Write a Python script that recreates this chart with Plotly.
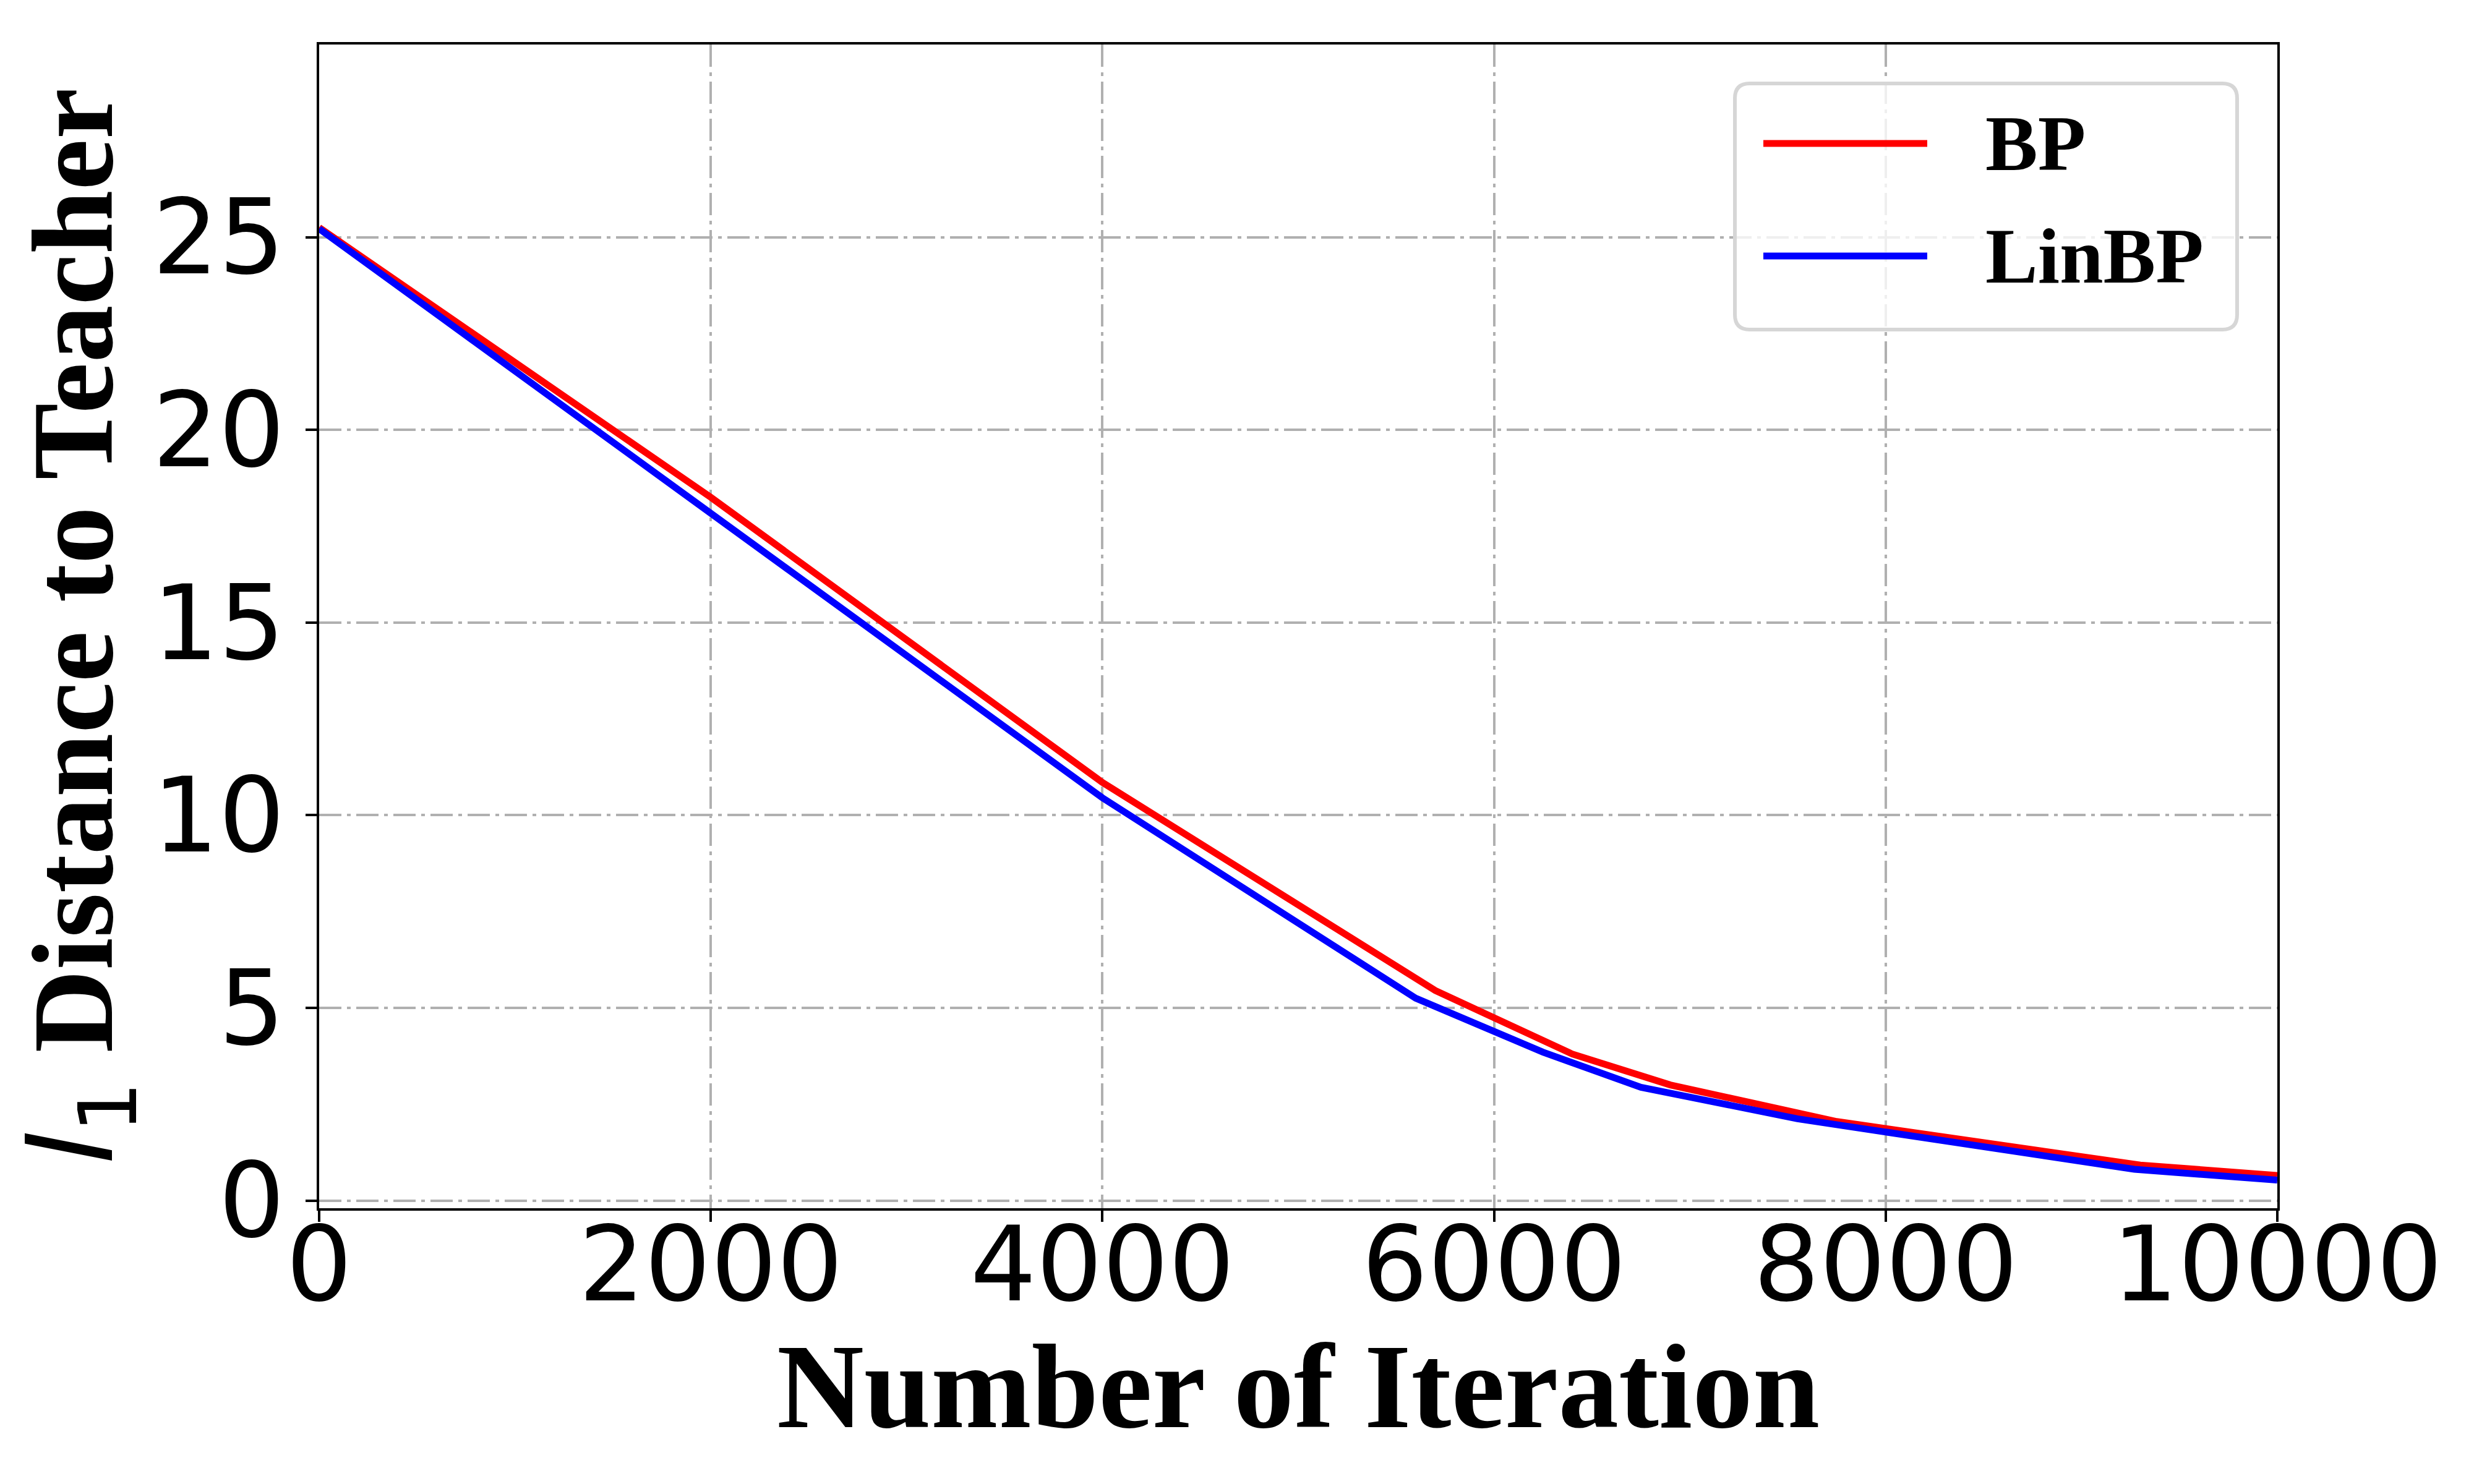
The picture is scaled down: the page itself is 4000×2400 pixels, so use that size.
import plotly.graph_objects as go

# ---- data ----
series_names = ["BP", "LinBP"]
series_colors = ["#ff0000", "#0000ff"]

bp_iter = [0, 2000, 4000, 5700, 6400, 6900, 7750, 9300, 10000]
bp_dist = [25.25, 18.25, 10.85, 5.45, 3.80, 3.00, 2.05, 0.92, 0.65]

linbp_iter = [0, 2000, 4000, 5600, 6250, 6750, 7550, 9270, 10000]
linbp_dist = [25.22, 17.85, 10.45, 5.25, 3.85, 2.94, 2.12, 0.81, 0.53]

x_ticks = [0, 2000, 4000, 6000, 8000, 10000]
y_ticks = [0, 5, 10, 15, 20, 25]

x_title = "Number of Iteration"
y_title_rest = " Distance to Teacher"

W, H = 4000, 2400
ML, MR, MT, MB = 508, 326, 64, 454
PW, PH = W - ML - MR, H - MT - MB

SERIF = "Liberation Serif"
SANS = "DejaVu Sans"

fig = go.Figure()
for name, color, xs, ys in [
    (series_names[0], series_colors[0], bp_iter, bp_dist),
    (series_names[1], series_colors[1], linbp_iter, linbp_dist),
]:
    fig.add_trace(go.Scatter(x=xs, y=ys, mode="lines", name=name,
                             line=dict(color=color, width=11),
                             showlegend=False))

grid_dash = "36px,9px,6px,9px"
axis_common = dict(
    showline=True, linecolor="black", linewidth=4, mirror=True,
    ticks="outside", ticklen=18, tickwidth=4, tickcolor="black",
    showgrid=True, gridcolor="#b0b0b0", gridwidth=3.5, griddash=grid_dash,
    zeroline=False,
    tickfont=dict(family=SANS, size=168, color="black"),
)

fig.update_layout(
    width=W, height=H,
    margin=dict(l=ML, r=MR, t=MT, b=MB),
    paper_bgcolor="white", plot_bgcolor="white",
    xaxis=dict(range=[0, 10000], tickvals=x_ticks,
               ticktext=[str(v) for v in x_ticks],
               ticklabelstandoff=-75,
               **axis_common),
    yaxis=dict(range=[-0.2, 30.0], tickvals=y_ticks,
               ticktext=[str(v) for v in y_ticks],
               title=dict(
                   text=("<span style='font-family:DejaVu Sans;font-style:italic;font-weight:normal'>l</span>"
                         "<sub><span style='font-family:DejaVu Sans;font-weight:normal'>1</span></sub>"
                         + y_title_rest),
                   standoff=19,
                   font=dict(family=SERIF, size=186, color="black", weight="bold")),
               **axis_common),
)

def px_to_paper_x(px):
    return (px - ML) / PW

def px_to_paper_y(py):
    return (H - MB - py) / PH

# x-axis title as an annotation (placed closer to the tick labels than standoff allows)
fig.add_annotation(xref="paper", yref="paper", x=0.5, y=px_to_paper_y(2124),
                   xanchor="center", yanchor="top", showarrow=False,
                   text=f"<b>{x_title}</b>",
                   font=dict(family=SERIF, size=195, color="black"))

# ---- legend drawn as a rounded box (paper coordinates) ----
bx0, bx1 = px_to_paper_x(2797), px_to_paper_x(3609)
by1, by0 = px_to_paper_y(127), px_to_paper_y(525)
rx, ry = 24 / PW, 24 / PH
path = (f"M {bx0+rx},{by0} L {bx1-rx},{by0} Q {bx1},{by0} {bx1},{by0+ry} "
        f"L {bx1},{by1-ry} Q {bx1},{by1} {bx1-rx},{by1} "
        f"L {bx0+rx},{by1} Q {bx0},{by1} {bx0},{by1-ry} "
        f"L {bx0},{by0+ry} Q {bx0},{by0} {bx0+rx},{by0} Z")
fig.add_shape(type="path", xref="paper", yref="paper", path=path,
              fillcolor="rgba(255,255,255,0.8)", line=dict(color="#d6d6d6", width=6),
              layer="above")

legend_rows_py = [224, 406]
lx0, lx1 = px_to_paper_x(2843), px_to_paper_x(3108)
tx = px_to_paper_x(3200)
for name, color, py in zip(series_names, series_colors, legend_rows_py):
    yy = px_to_paper_y(py)
    fig.add_shape(type="line", xref="paper", yref="paper",
                  x0=lx0, x1=lx1, y0=yy, y1=yy,
                  line=dict(color=color, width=11), layer="above")
    fig.add_annotation(xref="paper", yref="paper", x=tx, y=yy,
                       xanchor="left", yanchor="middle", showarrow=False,
                       text=f"<b>{name}</b>",
                       font=dict(family=SERIF, size=127, color="black"))

fig.write_html("out.html")
